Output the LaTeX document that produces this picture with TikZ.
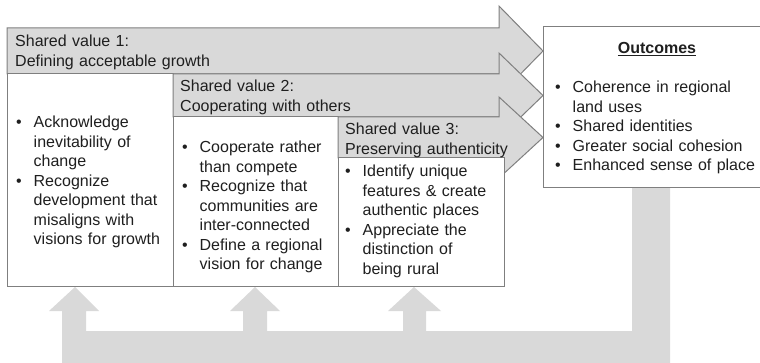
\documentclass[tikz,border=0pt]{standalone}
\usepackage{fontspec}
\setmainfont{Liberation Sans}
\usepackage{tikz}

\definecolor{bandgray}{HTML}{D9D9D9}
\definecolor{edgegray}{HTML}{7F7F7F}
\definecolor{inkgray}{HTML}{1F1F1F}

\newcommand{\bul}{\makebox[17.5pt][l]{\textbullet}}
\newcommand{\ind}{\hspace*{17.5pt}}

\begin{document}
\begin{tikzpicture}[x=1pt, y=-1pt,
    valarrow/.style = {fill=bandgray, draw=edgegray, line width=1pt},
    listbox/.style = {fill=white, draw=edgegray, line width=1pt},
    feedback/.style = {fill=bandgray},
    txt/.style = {inner sep=0pt, anchor=base west, text=inkgray, align=left,
                  text width=220pt, font=\fontsize{16}{19.5}\selectfont}]
  \useasboundingbox (0,0) rectangle (760,363);

  % feedback from the outcomes back to the values
  \fill[feedback] (632,188) -- (632,331) -- (426,331) -- (426,311) -- (441,311)
    -- (414,287) -- (388,311) -- (403,311) -- (403,331) -- (267,331) -- (267,311)
    -- (280,311) -- (255,287) -- (230,311) -- (243,311) -- (243,331) -- (86,331)
    -- (86,311) -- (99,311) -- (75,287) -- (49,311) -- (62,311) -- (62,370)
    -- (670,370) -- (670,188) -- cycle;

  % shared values
  \draw[valarrow] (7,28) -- (499,28) -- (499,6) -- (543,51) -- (499,96) -- (499,74) -- (7,74) -- cycle;
  \draw[listbox] (7,74) rectangle (173,287);
  \draw[valarrow] (173,74) -- (499,74) -- (499,53) -- (543,95.5) -- (499,138) -- (499,117) -- (173,117) -- cycle;
  \draw[listbox] (173,117) rectangle (338,287);
  \draw[valarrow] (338,117) -- (499,117) -- (499,97) -- (543,137.5) -- (499,178) -- (499,158) -- (338,158) -- cycle;
  \draw[listbox] (338,158) rectangle (504,287);
  \draw[listbox] (543,27) rectangle (772,188);

  \node[txt] (sv1) at (15,47) {Shared value 1:\\Defining acceptable growth};
  \node[txt] (sv2) at (180,92) {Shared value 2:\\Cooperating with others};
  \node[txt] (sv3) at (345,135) {Shared value 3:\\Preserving authenticity};

  \node[txt] (list1) at (16,128) {\bul Acknowledge\\\ind inevitability of\\\ind change\\
    \bul Recognize\\\ind development that\\\ind misaligns with\\\ind visions for growth};
  \node[txt] (list2) at (182,153) {\bul Cooperate rather\\\ind than compete\\
    \bul Recognize that\\\ind communities are\\\ind inter-connected\\
    \bul Define a regional\\\ind vision for change};
  \node[txt] (list3) at (345,177) {\bul Identify unique\\\ind features \& create\\\ind authentic places\\
    \bul Appreciate the\\\ind distinction of\\\ind being rural};

  \node[txt, anchor=base, text width=120pt, align=center] (outhead) at (657,54) {\textbf{\underline{Outcomes}}};
  \node[txt] (outlist) at (555,93) {\bul Coherence in regional\\\ind land uses\\
    \bul Shared identities\\\bul Greater social cohesion\\\bul Enhanced sense of place};
\end{tikzpicture}
\end{document}
